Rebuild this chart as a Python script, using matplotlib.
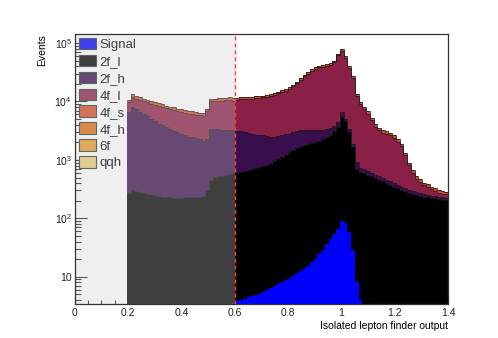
import numpy as np
import matplotlib
matplotlib.use("Agg")
import matplotlib.pyplot as plt
from matplotlib.patches import Patch
from matplotlib.ticker import FixedLocator, FixedFormatter, LogLocator, NullFormatter, MultipleLocator

plt.rcParams['font.family'] = ['Liberation Sans', 'DejaVu Sans']
plt.rcParams['mathtext.fontset'] = 'custom'
plt.rcParams['mathtext.rm'] = 'Liberation Sans'

# histogram: 100 bins on [0, 1.4]; background filled from bin 14, signal from bin 42
n_bins = 100
x_range = (0.0, 1.4)
bkg_first_bin = 14
sig_first_bin = 42

h_2f_l = [275, 302, 288, 282, 269, 263, 257, 251, 240, 234, 229, 229, 224, 224, 224, 229, 229, 229,
          234, 234, 245, 302, 457, 501, 525, 537, 550, 575, 603, 617, 631, 646, 661, 692, 724, 759,
          794, 832, 891, 955, 1047, 1122, 1230, 1349, 1479, 1585, 1698, 1778, 1862, 1950, 2042, 2138,
          2291, 2455, 2630, 3162, 3715, 5495, 4571, 2951, 1660, 708, 617, 589, 562, 525, 490, 457,
          427, 398, 372, 347, 324, 302, 288, 275, 263, 251, 240, 234, 229, 224, 219, 214, 209, 204]
h_2f_h = [6332, 7641, 7125, 6325, 5897, 5360, 4755, 4320, 3929, 3656, 3402, 3159, 2938, 2727, 2594,
          2401, 2283, 2226, 2110, 2005, 1893, 1989, 2931, 2887, 2863, 2774, 2761, 2661, 2633, 2545,
          2459, 2305, 2223, 2062, 1968, 1871, 1836, 1738, 1621, 1557, 1523, 1508, 1524, 1469, 1472,
          1505, 1538, 1458, 1374, 1286, 1194, 1098, 945, 933, 918, 640, 701, 1112, 441, 437, 202, 204,
          124, 103, 84, 78, 72, 68, 63, 59, 55, 51, 48, 45, 36, 34, 32, 31, 29, 23, 22, 21, 21, 20,
          20, 20]
h_4f_l = [3036, 3922, 3660, 3967, 3932, 4020, 4198, 4224, 4231, 4132, 4029, 3927, 3987, 3876, 3854,
          3741, 3714, 3630, 3602, 3572, 3541, 4458, 6617, 6710, 6827, 7023, 7142, 7338, 7098, 7516,
          7837, 7976, 8169, 8427, 8750, 8944, 9078, 9550, 10034, 10624, 11186, 11774, 12329, 13720,
          15182, 17257, 20125, 23585, 26858, 29761, 32946, 35089, 36436, 37678, 38961, 42809, 57028,
          67266, 49750, 33636, 23169, 11634, 8152, 6704, 5507, 4173, 3145, 2704, 2455, 2355, 2197,
          1995, 1665, 1387, 875, 502, 307, 196, 157, 113, 95, 71, 55, 41, 33, 33]
h_4f_s = [1072, 1318, 1230, 1175, 1122, 1072, 1023, 977, 933, 891, 851, 813, 794, 759, 741, 708, 692,
          676, 661, 646, 631, 750, 1112, 1122, 1135, 1148, 1161, 1175, 1148, 804, 822, 822, 832, 842,
          861, 871, 881, 912, 944, 989, 1035, 1084, 1135, 1245, 1365, 1531, 1758, 2019, 2265, 2484,
          2723, 2885, 2986, 3091, 3200, 3508, 4625, 5560, 4122, 2787, 1884, 944, 879, 732, 608, 472,
          367, 319, 291, 278, 260, 237, 202, 171, 119, 80, 59, 47, 42, 37, 34, 31, 29, 27, 26, 25]
# too small to be seen on the plot
h_4f_h = [0] * 86
h_6f = [0] * 86
h_qqh = [0] * 86

h_signal = [3.5, 3.8, 4.0, 4.2, 4.5, 4.7, 4.9, 5.1, 5.5, 6.0, 6.4, 6.9, 7.5, 8.0, 8.7, 9.3, 10.2,
            11.4, 12.7, 13.9, 15.4, 17.8, 20.5, 24.4, 28.6, 36, 44, 55, 67, 89, 85, 58, 29, 8.2, 4.0]

labels = ['Signal', '2f_l', '2f_h', '4f_l', '4f_s', '4f_h', '6f', 'qqh']
colors = ['#0000ff', '#000000', '#3a0e4c', '#8a2046', '#d84a22', '#e06e12', '#e89a28', '#e8cc78']
cut_value = 0.6

edges = np.linspace(x_range[0], x_range[1], n_bins + 1)
bkg_edges = edges[bkg_first_bin:]
sig_edges = edges[sig_first_bin:sig_first_bin + len(h_signal) + 1]

fig = plt.figure(figsize=(4.98, 3.38), dpi=100)
ax = fig.add_axes([0.15, 0.10, 0.75, 0.80])
ax.set_yscale('log')

# stacked backgrounds
stack = [h_2f_l, h_2f_h, h_4f_l, h_4f_s, h_4f_h, h_6f, h_qqh]
base = np.full(len(h_2f_l), 1.0)
for vals, col in zip(stack, colors[1:]):
    top = base + np.array(vals, dtype=float)
    ax.stairs(top, bkg_edges, baseline=base, fill=True, color=col, zorder=2)
    base = top
base = np.full(len(h_2f_l), 1.0)
for vals in stack[:4]:
    base = base + np.array(vals, dtype=float)
    ax.stairs(base, bkg_edges, baseline=None, color='#1c1c1c', lw=0.55, zorder=2.5)

# signal on top
ax.stairs(h_signal, sig_edges, baseline=1.0, fill=True, color=colors[0], zorder=3)

ax.set_xlim(*x_range)
ax.set_ylim(3.4, 1.44e5)

handles = [Patch(facecolor=c, edgecolor='#333333', lw=0.8) for c in colors]
leg = ax.legend(handles, labels, loc='upper left', bbox_to_anchor=(0.0, 1.0), frameon=False,
                fontsize=9.5, handlelength=1.3, handleheight=0.95, labelspacing=0.28,
                handletextpad=0.3, borderpad=0.15, borderaxespad=0.15)
leg.set_zorder(4)

# region removed by the cut
ax.axvspan(0.0, cut_value, color='#cecece', alpha=0.31, lw=0, zorder=5)
ax.axvline(cut_value, color='#ff3b3b', lw=1.0, ls=(0, (3, 2)), zorder=6)

ax.xaxis.set_major_locator(MultipleLocator(0.2))
ax.xaxis.set_minor_locator(MultipleLocator(0.05))
ax.xaxis.set_major_formatter(plt.FuncFormatter(lambda v, p: '%g' % round(v, 2)))
ax.yaxis.set_major_locator(FixedLocator([10, 1e2, 1e3, 1e4, 1e5]))
ax.yaxis.set_major_formatter(FixedFormatter(['10', r'10$^{2}$', r'10$^{3}$', r'10$^{4}$', r'10$^{5}$']))
ax.yaxis.set_minor_locator(LogLocator(base=10, subs=np.arange(2, 10)))
ax.yaxis.set_minor_formatter(NullFormatter())

ax.tick_params(axis='both', which='both', direction='in', top=False, right=False,
               labelsize=7.5, colors='#222222')
ax.tick_params(axis='x', which='major', length=5.8, width=0.8, pad=3)
ax.tick_params(axis='x', which='minor', length=2.9, width=0.8)
ax.tick_params(axis='y', which='major', length=8.6, width=0.8, pad=2)
ax.tick_params(axis='y', which='minor', length=4.3, width=0.8)
for s in ax.spines.values():
    s.set_linewidth(0.9)
    s.set_color('#333333')
    s.set_zorder(7)

ax.set_xlabel('Isolated lepton finder output', loc='right', fontsize=7.5, labelpad=2)
ax.set_ylabel('Events', loc='top', fontsize=7.5, labelpad=5)

fig.savefig('out.png', dpi=100)
